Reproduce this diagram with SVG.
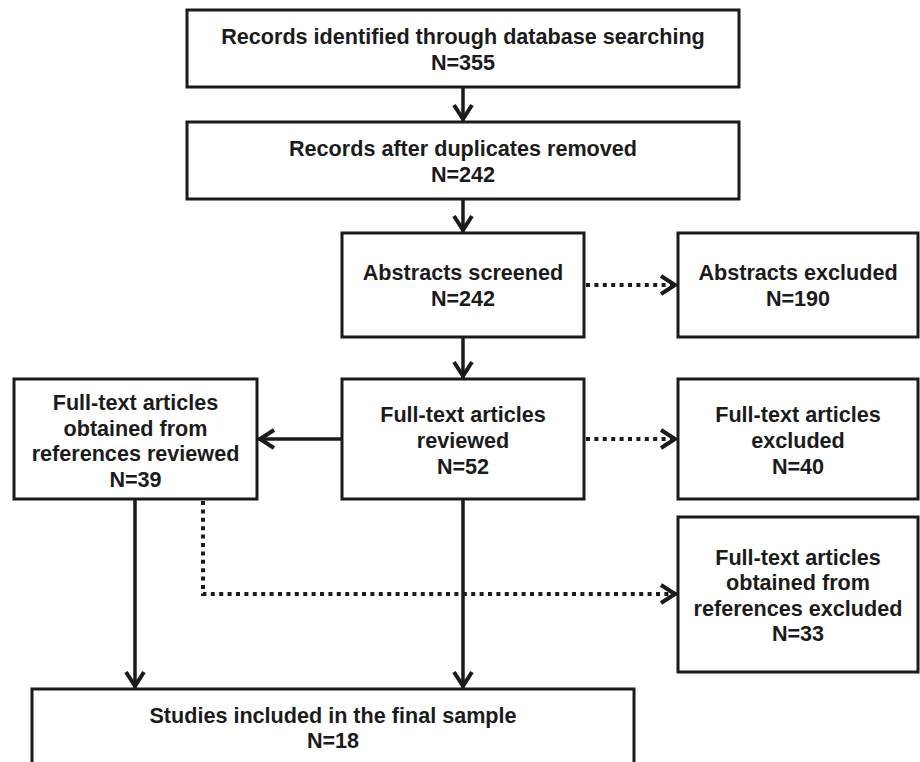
<svg xmlns="http://www.w3.org/2000/svg" width="920" height="762" viewBox="0 0 920 762">
<style>
.box{fill:#fff;stroke:#1b1b1b;stroke-width:3}
.t{font-family:"Liberation Sans",Arial,Helvetica,sans-serif;font-weight:bold;font-size:21.6px;fill:#1b1b1b;text-anchor:middle}
.solid{fill:none;stroke:#1b1b1b;stroke-width:3.5}
.dot{fill:none;stroke:#1b1b1b;stroke-width:4;stroke-dasharray:4 4.4}
</style>
<defs>
<marker id="arr" markerUnits="userSpaceOnUse" viewBox="-22 -13 26 26" markerWidth="26" markerHeight="26" refX="0" refY="0" orient="auto">
<path d="M-16,-9 L-2,0 L-16,9" fill="none" stroke="#1b1b1b" stroke-width="4"/>
</marker>
</defs>
<rect width="920" height="762" fill="#fff"/>
<g id="connectors">
<line class="solid" x1="463" y1="87" x2="463" y2="121" marker-end="url(#arr)"/>
<line class="solid" x1="463" y1="199" x2="463" y2="232" marker-end="url(#arr)"/>
<line class="solid" x1="463" y1="337" x2="463" y2="378" marker-end="url(#arr)"/>
<line class="solid" x1="342" y1="439" x2="258" y2="439" marker-end="url(#arr)"/>
<line class="dot" x1="586" y1="285" x2="677" y2="285" marker-end="url(#arr)"/>
<line class="dot" x1="586" y1="439" x2="677" y2="439" marker-end="url(#arr)"/>
<polyline class="dot" points="203,501 203,594 677,594" marker-end="url(#arr)"/>
<line class="solid" x1="135" y1="499" x2="135" y2="688" marker-end="url(#arr)"/>
<line class="solid" x1="463" y1="499" x2="463" y2="688" marker-end="url(#arr)"/>
</g>
<g id="n1">
<rect class="box" x="187" y="10" width="552" height="77"/>
<text class="t" x="463" y="44">Records identified through database searching</text>
<text class="t" x="463" y="70">N=355</text>
</g>
<g id="n2">
<rect class="box" x="187" y="122" width="552" height="77"/>
<text class="t" x="463" y="156">Records after duplicates removed</text>
<text class="t" x="463" y="182">N=242</text>
</g>
<g id="n3">
<rect class="box" x="342" y="233" width="242" height="104"/>
<text class="t" x="463" y="280">Abstracts screened</text>
<text class="t" x="463" y="306">N=242</text>
</g>
<g id="n4">
<rect class="box" x="678" y="233" width="240" height="104"/>
<text class="t" x="798" y="280">Abstracts excluded</text>
<text class="t" x="798" y="306">N=190</text>
</g>
<g id="n5">
<rect class="box" x="342" y="379" width="242" height="120"/>
<text class="t" x="463" y="422">Full-text articles</text>
<text class="t" x="463" y="448">reviewed</text>
<text class="t" x="463" y="474">N=52</text>
</g>
<g id="n6">
<rect class="box" x="678" y="379" width="240" height="120"/>
<text class="t" x="798" y="422">Full-text articles</text>
<text class="t" x="798" y="448">excluded</text>
<text class="t" x="798" y="474">N=40</text>
</g>
<g id="n7">
<rect class="box" x="14" y="379" width="243" height="120"/>
<text class="t" x="135.5" y="410">Full-text articles</text>
<text class="t" x="135.5" y="435.5">obtained from</text>
<text class="t" x="135.5" y="461">references reviewed</text>
<text class="t" x="135.5" y="487">N=39</text>
</g>
<g id="n8">
<rect class="box" x="678" y="517" width="240" height="155"/>
<text class="t" x="798" y="564.5">Full-text articles</text>
<text class="t" x="798" y="590">obtained from</text>
<text class="t" x="798" y="615.5">references excluded</text>
<text class="t" x="798" y="641">N=33</text>
</g>
<g id="n9">
<rect class="box" x="32" y="689" width="602" height="100"/>
<text class="t" x="333" y="723">Studies included in the final sample</text>
<text class="t" x="333" y="748">N=18</text>
</g>
</svg>
